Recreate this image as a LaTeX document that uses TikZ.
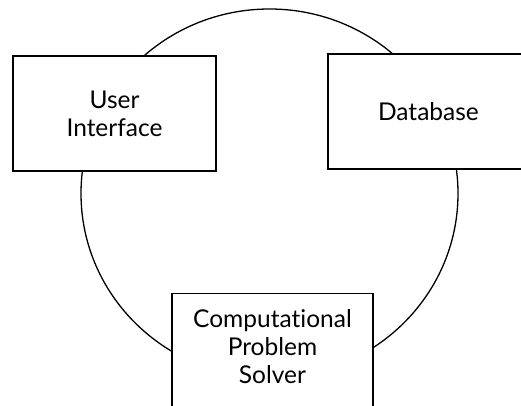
\documentclass[tikz,border=0pt]{standalone}
\usepackage{fontspec}
\setmainfont{Lato}[Ligatures=NoCommon]
\usetikzlibrary{positioning}

\begin{document}
\begin{tikzpicture}[x=1pt, y=-1pt, line width=1.3pt,
		module/.style={draw, fill=white, align=center, inner sep=0pt,
			font=\fontsize{24.5}{28}\selectfont,
			minimum width=203pt, minimum height=115pt}]
	\def\xMAX{521}
	\def\yMAX{406}
	\useasboundingbox (0,0) rectangle (\xMAX,\yMAX);
	\clip (0,0) rectangle (\xMAX,\yMAX);

	\coordinate (ring) at (269.5,193.5);
	\draw (ring) ellipse [x radius=188.5pt, y radius=184.5pt];

	\node [module] (ui) at (114.5,113.5) {User\\Interface};
	\node [module, minimum width=201pt] (db) at (428.5,111.5) {Database};
	\node [module, anchor=north, minimum width=201pt, minimum height=0pt,
		inner ysep=16pt, text depth=90pt] (cps) at (272.5,293) {Computational\\Problem\\Solver};
\end{tikzpicture}
\end{document}
